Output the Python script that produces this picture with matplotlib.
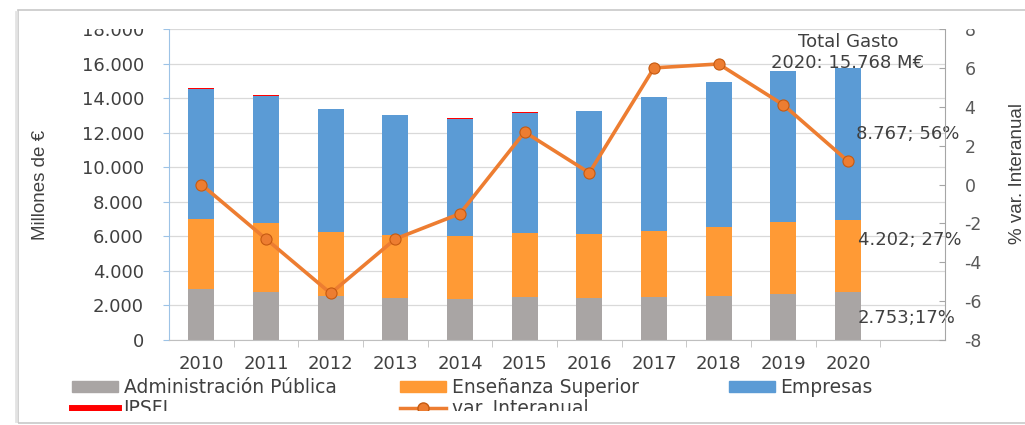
import numpy as np
import matplotlib
matplotlib.use("Agg")
import matplotlib.pyplot as plt
from matplotlib.patches import Rectangle, Patch
from matplotlib.lines import Line2D
from matplotlib.ticker import FuncFormatter, MultipleLocator

plt.rcParams['axes.unicode_minus'] = False
plt.rcParams['font.family'] = ['DejaVu Sans']

# gasto en I+D por sector (millones de euros)
years = ['2010', '2011', '2012', '2013', '2014', '2015',
         '2016', '2017', '2018', '2019', '2020']
admin = [2932, 2766, 2561, 2445, 2393, 2466, 2438, 2471, 2545, 2640, 2753]
ens_sup = [4086, 3986, 3715, 3643, 3627, 3704, 3716, 3848, 3998, 4197, 4202]
empresas = [7506, 7397, 7094, 6906, 6785, 6985, 7086, 7717, 8378, 8707, 8767]
ipsfl = [64, 35, 22, 18, 16, 17, 20, 16, 25, 28, 46]
var_interanual = [0.0, -2.8, -5.6, -2.8, -1.5, 2.7, 0.6, 6.0, 6.2, 4.1, 1.2]

c_admin = '#A9A5A4'
c_ens = '#FF9A35'
c_emp = '#5B9BD5'
c_ipsfl = '#FF0000'
c_line = '#ED7D31'
txt = '#404040'
narrow = ['Liberation Sans', 'DejaVu Sans']

W, H = 1025, 425
fig = plt.figure(figsize=(W / 100, H / 100), dpi=100)
ax = fig.add_axes([169 / W, 1 - 340 / H, 776 / W, 311 / H])

x = np.arange(len(years))
bw = 0.4
b1 = np.array(admin)
b2 = b1 + np.array(ens_sup)
b3 = b2 + np.array(empresas)
ax.bar(x, admin, bw, color=c_admin, zorder=2)
ax.bar(x, ens_sup, bw, bottom=b1, color=c_ens, zorder=2)
ax.bar(x, empresas, bw, bottom=b2, color=c_emp, zorder=2)
ax.bar(x, ipsfl, bw, bottom=b3, color=c_ipsfl, zorder=2)

ax.set_xlim(-0.5, len(years) + 0.5)
ax.set_ylim(0, 18000)
ax.yaxis.set_major_locator(MultipleLocator(2000))
ax.yaxis.set_major_formatter(FuncFormatter(lambda v, p: f"{int(v):,}".replace(",", ".")))
ax.grid(axis='y', color='#D9D9D9', lw=0.9, zorder=0)
ax.set_xticks(x)
ax.set_xticklabels(years)
ax.set_xticks(np.arange(0.5, len(years)), minor=True)
ax.tick_params(axis='x', which='major', length=0, pad=11, labelsize=13, labelcolor=txt)
ax.tick_params(axis='x', which='minor', length=5, color='#BFBFBF', direction='out')
ax.tick_params(axis='y', length=4, color='#9DC3E6', pad=14, labelsize=13, labelcolor=txt)
ax.spines['top'].set_visible(False)
ax.spines['right'].set_visible(False)
ax.spines['left'].set_color('#9DC3E6')
ax.spines['bottom'].set_color('#BFBFBF')
ax.set_ylabel('Millones de €', family=narrow, fontsize=13.5, color=txt)
ax.yaxis.set_label_coords(-0.155, 0.5)

ax2 = ax.twinx()
ax2.plot(x, var_interanual, color=c_line, lw=2.6, marker='o', ms=8,
         mfc=c_line, mec='#C55A11', mew=0.8, zorder=3)
ax2.set_ylim(-8, 8)
ax2.yaxis.set_major_locator(MultipleLocator(2))
ax2.tick_params(axis='y', direction='in', length=4, color='#A6A6A6', pad=14,
                labelsize=12.5, labelcolor='#595959')
for s in ['top', 'left', 'bottom']:
    ax2.spines[s].set_visible(False)
ax2.spines['right'].set_color('#A6A6A6')
ax2.set_ylabel('% var. Interanual', family=narrow, fontsize=13.5, color=txt)
ax2.yaxis.set_label_coords(1.0825, 0.534)

# anotaciones
ax.text(10.0, 17250, 'Total Gasto', ha='center', va='center', fontsize=13, color=txt)
ax.text(10.0, 16050, '2020: 15.768 M€', ha='center', va='center', fontsize=13, color=txt)
ax.text(10.12, 11900, '8.767; 56%', ha='left', va='center', fontsize=13, color=txt)
ax.text(10.15, 5800, '4.202; 27%', ha='left', va='center', fontsize=13, color=txt)
ax.text(10.15, 1250, '2.753;17%', ha='left', va='center', fontsize=13, color=txt)

# leyenda en tres columnas
col1 = [Patch(color=c_admin, label='Administración Pública'),
        Line2D([], [], color=c_ipsfl, lw=5, label='IPSFL')]
col2 = [Patch(color=c_ens, label='Enseñanza Superior'),
        Line2D([], [], color=c_line, lw=2.5, marker='o', ms=8, mec='#C55A11', label='var. Interanual')]
col3 = [Patch(color=c_emp, label='Empresas')]
for handles, xpx in [(col1, 72), (col2, 400), (col3, 729)]:
    fig.legend(handles=handles, loc='upper left', bbox_to_anchor=(xpx / W, 1 - 378 / H),
               frameon=False, fontsize=13.5, handlelength=2.45, handleheight=0.5,
               handletextpad=0.3, labelspacing=0.12, borderpad=0, borderaxespad=0,
               labelcolor=txt)

# zonas recortadas de la captura y marco
fig.add_artist(Rectangle((20 / W, 1 - 28.5 / H), 1000 / W, 17.5 / H, transform=fig.transFigure,
                         facecolor='white', edgecolor='none', zorder=10))
fig.add_artist(Rectangle((20 / W, 1 - 421 / H), 1000 / W, 10 / H, transform=fig.transFigure,
                         facecolor='white', edgecolor='none', zorder=10))
fig.add_artist(Rectangle((18 / W, 1 - 423 / H), 1020 / W, 413 / H, transform=fig.transFigure,
                         facecolor='none', edgecolor='#C8C8C8', lw=1.2, zorder=11))
fig.add_artist(Line2D([16 / W, 16 / W], [1 - 421 / H, 1 - 12 / H], transform=fig.transFigure,
                      color='#E3E3E3', lw=2, zorder=11))

fig.savefig('out.png', dpi=100)
